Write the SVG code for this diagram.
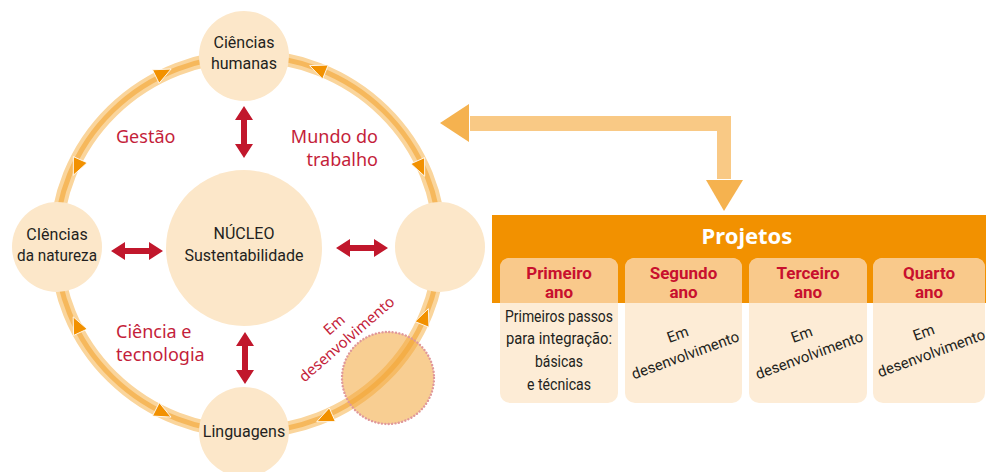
<svg xmlns="http://www.w3.org/2000/svg" width="986" height="472" viewBox="0 0 986 472">
<style>
.node{fill:#fce7c9;}
.blk{font-family:Roboto,"Liberation Sans",sans-serif;font-size:16px;fill:#231f20;text-anchor:middle;}
.red{font-family:"Noto Sans","Open Sans",sans-serif;font-size:18px;fill:#c41e3a;}
.rar{fill:#c1172c;}
.tri{fill:#f29100;stroke:#ffffff;stroke-width:0.8;stroke-linejoin:miter;}
.tabtop{fill:#f9c98b;}
.tabbot{fill:#fdecd6;}
.th{font-family:Roboto,"Liberation Sans",sans-serif;font-weight:bold;font-size:17px;fill:#c8102e;text-anchor:middle;}
.tb{font-family:Roboto,"Liberation Sans",sans-serif;font-size:16.5px;fill:#231f20;text-anchor:middle;}
.tr{font-family:Roboto,"Liberation Sans",sans-serif;font-size:15px;fill:#231f20;text-anchor:middle;}
</style>
<defs>
<path id="dbl" d="M0,-26 L9,-12 L3,-12 L3,12 L9,12 L0,26 L-9,12 L-3,12 L-3,-12 L-9,-12Z"/>
</defs>

<g id="connectors">
  <ellipse cx="248" cy="244" rx="192" ry="188" fill="none" stroke="#fad59c" stroke-width="13"/>
  <ellipse cx="248" cy="244" rx="192" ry="188" fill="none" stroke="#f6b85c" stroke-width="5"/>
  <path class="tri" d="M9,0 L-8,-7.5 L-8,7.5 Z" transform="translate(163,73) rotate(-26)"/>
  <path class="tri" d="M9,0 L-8,-7.5 L-8,7.5 Z" transform="translate(77,167) rotate(114)"/>
  <path class="tri" d="M9,0 L-8,-7.5 L-8,7.5 Z" transform="translate(318,69) rotate(-158)"/>
  <path class="tri" d="M9,0 L-8,-7.5 L-8,7.5 Z" transform="translate(421,168) rotate(66)"/>
  <path class="tri" d="M9,0 L-8,-7.5 L-8,7.5 Z" transform="translate(77,325) rotate(-115)"/>
  <path class="tri" d="M9,0 L-8,-7.5 L-8,7.5 Z" transform="translate(163,413) rotate(27)"/>
  <path class="tri" d="M9,0 L-8,-7.5 L-8,7.5 Z" transform="translate(425,317) rotate(-68)"/>
  <path class="tri" d="M9,0 L-8,-7.5 L-8,7.5 Z" transform="translate(325,418) rotate(156)"/>
  <use href="#dbl" class="rar" transform="translate(244,132)"/>
  <use href="#dbl" class="rar" transform="translate(245,358)"/>
  <use href="#dbl" class="rar" transform="translate(137,251) rotate(90)"/>
  <use href="#dbl" class="rar" transform="translate(362,248) rotate(90)"/>
  <path d="M470,116 H731 V179 H717 V131 H470 Z" fill="#f9c985"/>
  <polygon points="440,123 469,104 469,142" fill="#f5b24f"/>
  <polygon points="706,180 743,180 724,211" fill="#f5b24f"/>
</g>

<g id="dev-circle">
  <circle cx="388" cy="378" r="46" fill="#f3a638" fill-opacity="0.55" stroke="#e0989a" stroke-width="2.4" stroke-dasharray="0.1 3.3" stroke-linecap="round"/>
</g>

<g id="n-humanas">
  <circle class="node" cx="244" cy="56" r="45"/>
  <text class="blk" x="244" y="48">Ciências</text>
  <text class="blk" x="244" y="69">humanas</text>
</g>
<g id="n-natureza">
  <circle class="node" cx="57" cy="247" r="45"/>
  <text class="blk" x="57" y="240">CIências</text>
  <text class="blk" x="57" y="261" textLength="80" lengthAdjust="spacingAndGlyphs">da natureza</text>
</g>
<g id="n-direita">
  <circle class="node" cx="440" cy="247" r="45"/>
</g>
<g id="n-linguagens">
  <circle class="node" cx="244" cy="432" r="45"/>
  <text class="blk" x="244" y="437">Linguagens</text>
</g>
<g id="n-nucleo">
  <circle class="node" cx="244" cy="248" r="78"/>
  <text class="blk" x="244" y="239">NÚCLEO</text>
  <text class="blk" x="244" y="261">Sustentabilidade</text>
</g>

<g id="labels">
  <text class="red" x="116" y="143">Gestão</text>
  <text class="red" x="378" y="143" text-anchor="end">Mundo do</text>
  <text class="red" x="378" y="166" text-anchor="end">trabalho</text>
  <text class="red" x="116" y="338">Ciência e</text>
  <text class="red" x="116" y="361">tecnologia</text>
  <text class="red" style="font-size:15px" text-anchor="middle" transform="translate(350,343) rotate(-41)"><tspan x="0" y="-19">Em</tspan><tspan x="0" y="0">desenvolvimento</tspan></text>
</g>

<g id="projetos">
  <rect x="492" y="215" width="494" height="88" fill="#f29100"/>
  <text x="747" y="244" text-anchor="middle" style="font-family:'Noto Sans','Open Sans',sans-serif;font-weight:bold;font-size:22px;fill:#fff">Projetos</text>
</g>

<g id="tab1">
  <rect class="tabbot" x="500" y="258" width="118" height="145" rx="10"/>
  <path class="tabtop" d="M500,303 V268 Q500,258 510,258 H608 Q618,258 618,268 V303 Z"/>
  <text class="th" x="559" y="279">Primeiro</text>
  <text class="th" x="559" y="298">ano</text>
  <text class="tb" x="559" y="322" textLength="108" lengthAdjust="spacingAndGlyphs">Primeiros passos</text>
  <text class="tb" x="559" y="344" textLength="106" lengthAdjust="spacingAndGlyphs">para integração:</text>
  <text class="tb" x="559" y="367" textLength="48" lengthAdjust="spacingAndGlyphs">básicas</text>
  <text class="tb" x="559" y="390" textLength="64" lengthAdjust="spacingAndGlyphs">e técnicas</text>
</g>
<g id="tab2">
  <rect class="tabbot" x="625" y="258" width="117" height="145" rx="10"/>
  <path class="tabtop" d="M625,303 V268 Q625,258 635,258 H732 Q742,258 742,268 V303 Z"/>
  <text class="th" x="683.5" y="279">Segundo</text>
  <text class="th" x="683.5" y="298">ano</text>
  <text class="tr" transform="translate(687,360) rotate(-20)"><tspan x="0" y="-22">Em</tspan><tspan x="0" y="0">desenvolvimento</tspan></text>
</g>
<g id="tab3">
  <rect class="tabbot" x="749" y="258" width="118" height="145" rx="10"/>
  <path class="tabtop" d="M749,303 V268 Q749,258 759,258 H857 Q867,258 867,268 V303 Z"/>
  <text class="th" x="808" y="279">Terceiro</text>
  <text class="th" x="808" y="298">ano</text>
  <text class="tr" transform="translate(811,360) rotate(-20)"><tspan x="0" y="-22">Em</tspan><tspan x="0" y="0">desenvolvimento</tspan></text>
</g>
<g id="tab4">
  <rect class="tabbot" x="873" y="258" width="112" height="145" rx="10"/>
  <path class="tabtop" d="M873,303 V268 Q873,258 883,258 H975 Q985,258 985,268 V303 Z"/>
  <text class="th" x="929" y="279">Quarto</text>
  <text class="th" x="929" y="298">ano</text>
  <text class="tr" transform="translate(933,358) rotate(-20)"><tspan x="0" y="-22">Em</tspan><tspan x="0" y="0">desenvolvimento</tspan></text>
</g>
</svg>
